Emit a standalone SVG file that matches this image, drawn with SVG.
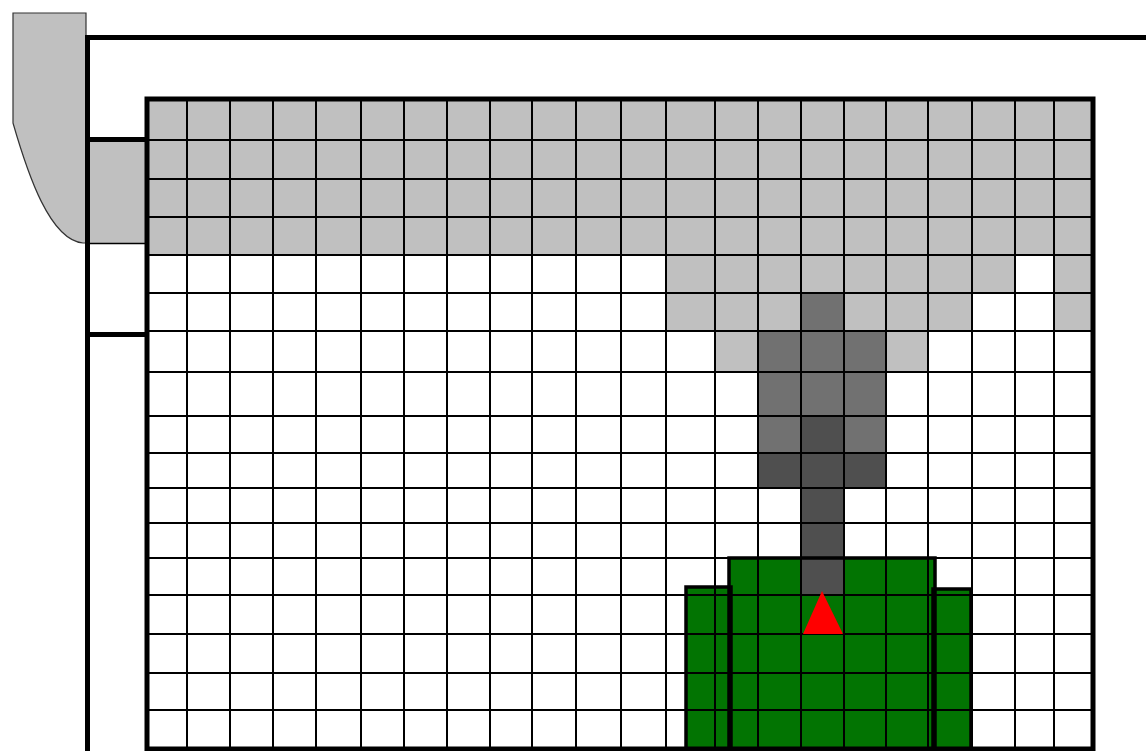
<svg xmlns="http://www.w3.org/2000/svg" width="1146" height="751" viewBox="0 0 1146 751">
<style>
.lg{fill:#c0c0c0}
.dg{fill:#717171}
.xg{fill:#4f4f4f}
.gr{fill:#027402}
.grid{stroke:#000;stroke-width:2;fill:none}
.thick{stroke:#000;stroke-width:5;fill:none}
.gout{stroke:#000;stroke-width:3.5;fill:none}
</style>
<rect width="1146" height="751" fill="#fff"/>
<g id="left-structure">
<path d="M13,13 L86,13 L86,243 L83,243 C50,240 28,175 13,123 Z" fill="#c0c0c0" stroke="#333" stroke-width="1.2"/>
<rect x="88" y="140" width="59" height="103" class="lg"/>
<line x1="88" y1="243.5" x2="147" y2="243.5" stroke="#000" stroke-width="1.5"/>
<line x1="85" y1="37.5" x2="1146" y2="37.5" class="thick"/>
<line x1="87.5" y1="35" x2="87.5" y2="751" class="thick"/>
<line x1="86" y1="139.5" x2="147" y2="139.5" class="thick"/>
<line x1="86" y1="334.5" x2="147" y2="334.5" class="thick"/>
</g>
<g id="fills">
<rect x="147" y="99" width="946" height="156" class="lg"/>
<rect x="666" y="255" width="349" height="38" class="lg"/>
<rect x="1054" y="255" width="39" height="76" class="lg"/>
<rect x="666" y="293" width="135" height="38" class="lg"/>
<rect x="844" y="293" width="128" height="38" class="lg"/>
<rect x="715" y="331" width="43" height="41" class="lg"/>
<rect x="886" y="331" width="42" height="41" class="lg"/>
<rect x="801" y="293" width="43" height="38" class="dg"/>
<rect x="758" y="331" width="128" height="85" class="dg"/>
<rect x="758" y="416" width="43" height="37" class="dg"/>
<rect x="844" y="416" width="42" height="37" class="dg"/>
<rect x="801" y="416" width="43" height="37" class="xg"/>
<rect x="758" y="453" width="128" height="35" class="xg"/>
</g>
<g id="green-block">
<rect x="729" y="558" width="206" height="193" class="gr"/>
<rect x="686" y="587" width="45" height="164" class="gr"/>
<rect x="933" y="589" width="38" height="162" class="gr"/>
<rect x="801" y="488" width="43" height="107" class="xg"/>
</g>
<g id="grid">
<path class="grid" d="M187,99V749M230,99V749M273,99V749M316,99V749M361,99V749M404,99V749M447,99V749M490,99V749M532,99V749M576,99V749M621,99V749M666,99V749M715,99V749M758,99V749M801,99V749M844,99V749M886,99V749M928,99V749M972,99V749M1015,99V749M1054,99V749"/>
<path class="grid" d="M147,140H1093M147,179H1093M147,217H1093M147,255H1093M147,293H1093M147,331H1093M147,372H1093M147,416H1093M147,453H1093M147,488H1093M147,523H1093M147,558H1093M147,595H1093M147,634H1093M147,673H1093M147,710H1093"/>
</g>
<g id="green-outline">
<path class="gout" d="M729,751V558H935V751"/>
<path class="gout" d="M686,751V587H731V751"/>
<path class="gout" d="M933,751V589H971V751"/>
</g>
<g id="marker">
<polygon points="822,591 803,634 843,634" fill="#ff0000"/>
</g>
<g id="grid-border">
<rect x="147" y="99" width="946" height="650" class="thick"/>
</g>
</svg>
